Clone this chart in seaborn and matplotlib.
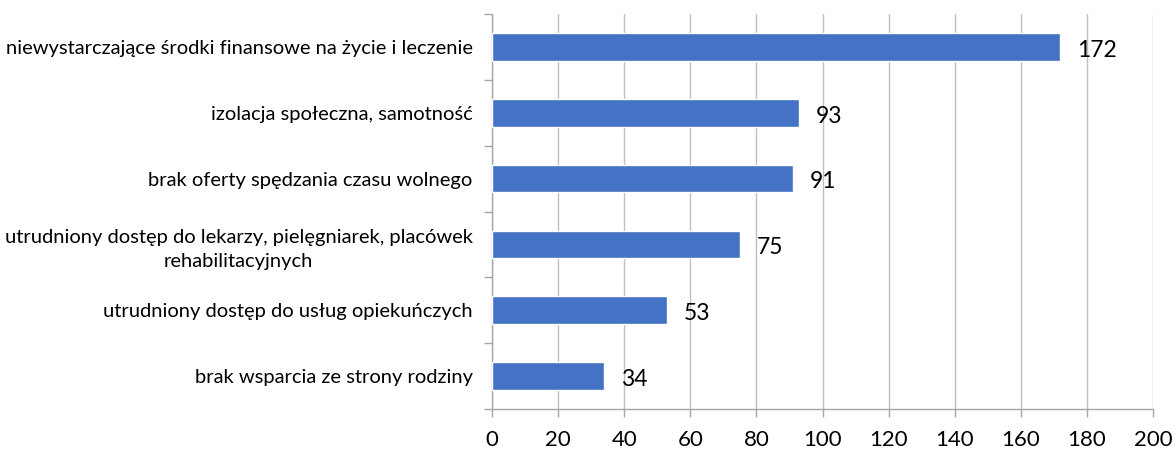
import matplotlib
matplotlib.use("Agg")
import matplotlib.pyplot as plt
import seaborn as sns
import pandas as pd
import numpy as np

categories = [
    "niewystarczające środki finansowe na życie i leczenie",
    "izolacja społeczna, samotność",
    "brak oferty spędzania czasu wolnego",
    "utrudniony dostęp do lekarzy, pielęgniarek, placówek\nrehabilitacyjnych",
    "utrudniony dostęp do usług opiekuńczych",
    "brak wsparcia ze strony rodziny",
]
values = [172, 93, 91, 75, 53, 34]
x_ticks = [0, 20, 40, 60, 80, 100, 120, 140, 160, 180, 200]

df = pd.DataFrame({"Kategoria": categories, "Liczba": values})

sns.set_style("white")
plt.rcParams["font.family"] = ["Lato", "DejaVu Sans"]
plt.rcParams["text.color"] = "black"

fig = plt.figure(figsize=(11.75, 4.54), dpi=100)
ax = fig.add_axes([0.4187, 0.0991, 0.5626, 0.8700])

sns.barplot(data=df, x="Liczba", y="Kategoria", color="#4472C4",
            width=0.42, saturation=1, ax=ax, zorder=3)

ax.set_xlim(0, 200)
ax.set_ylim(5.5, -0.5)
ax.set_xticks(x_ticks)
ax.set_xticklabels([str(t) for t in x_ticks], fontsize=16, color="black")
ax.set_xlabel("")
ax.set_ylabel("")

#category labels on majors, boundary ticks on minors
ax.set_yticks(range(len(categories)))
ax.set_yticklabels(categories, fontsize=14.5, multialignment="center",
                   linespacing=1.5, color="black")
ax.set_yticks(np.arange(-0.5, len(categories), 1), minor=True)
ax.tick_params(axis="y", which="major", left=True, length=0, pad=14)
ax.tick_params(axis="y", which="minor", left=True, length=6, color="#A6A6A6", width=1)
ax.tick_params(axis="x", bottom=True, length=6, color="#A6A6A6", width=1, pad=9)

ax.grid(axis="x", color="#BFBFBF", linewidth=1, zorder=0)
for s in ["top", "right"]:
    ax.spines[s].set_visible(False)
for s in ["left", "bottom"]:
    ax.spines[s].set_color("#A6A6A6")
    ax.spines[s].set_linewidth(1)

for i, v in enumerate(values):
    ax.text(v + 5, i + 0.05, str(v), va="center", ha="left", fontsize=16.5, color="black")

fig.savefig("out.png", dpi=100)
